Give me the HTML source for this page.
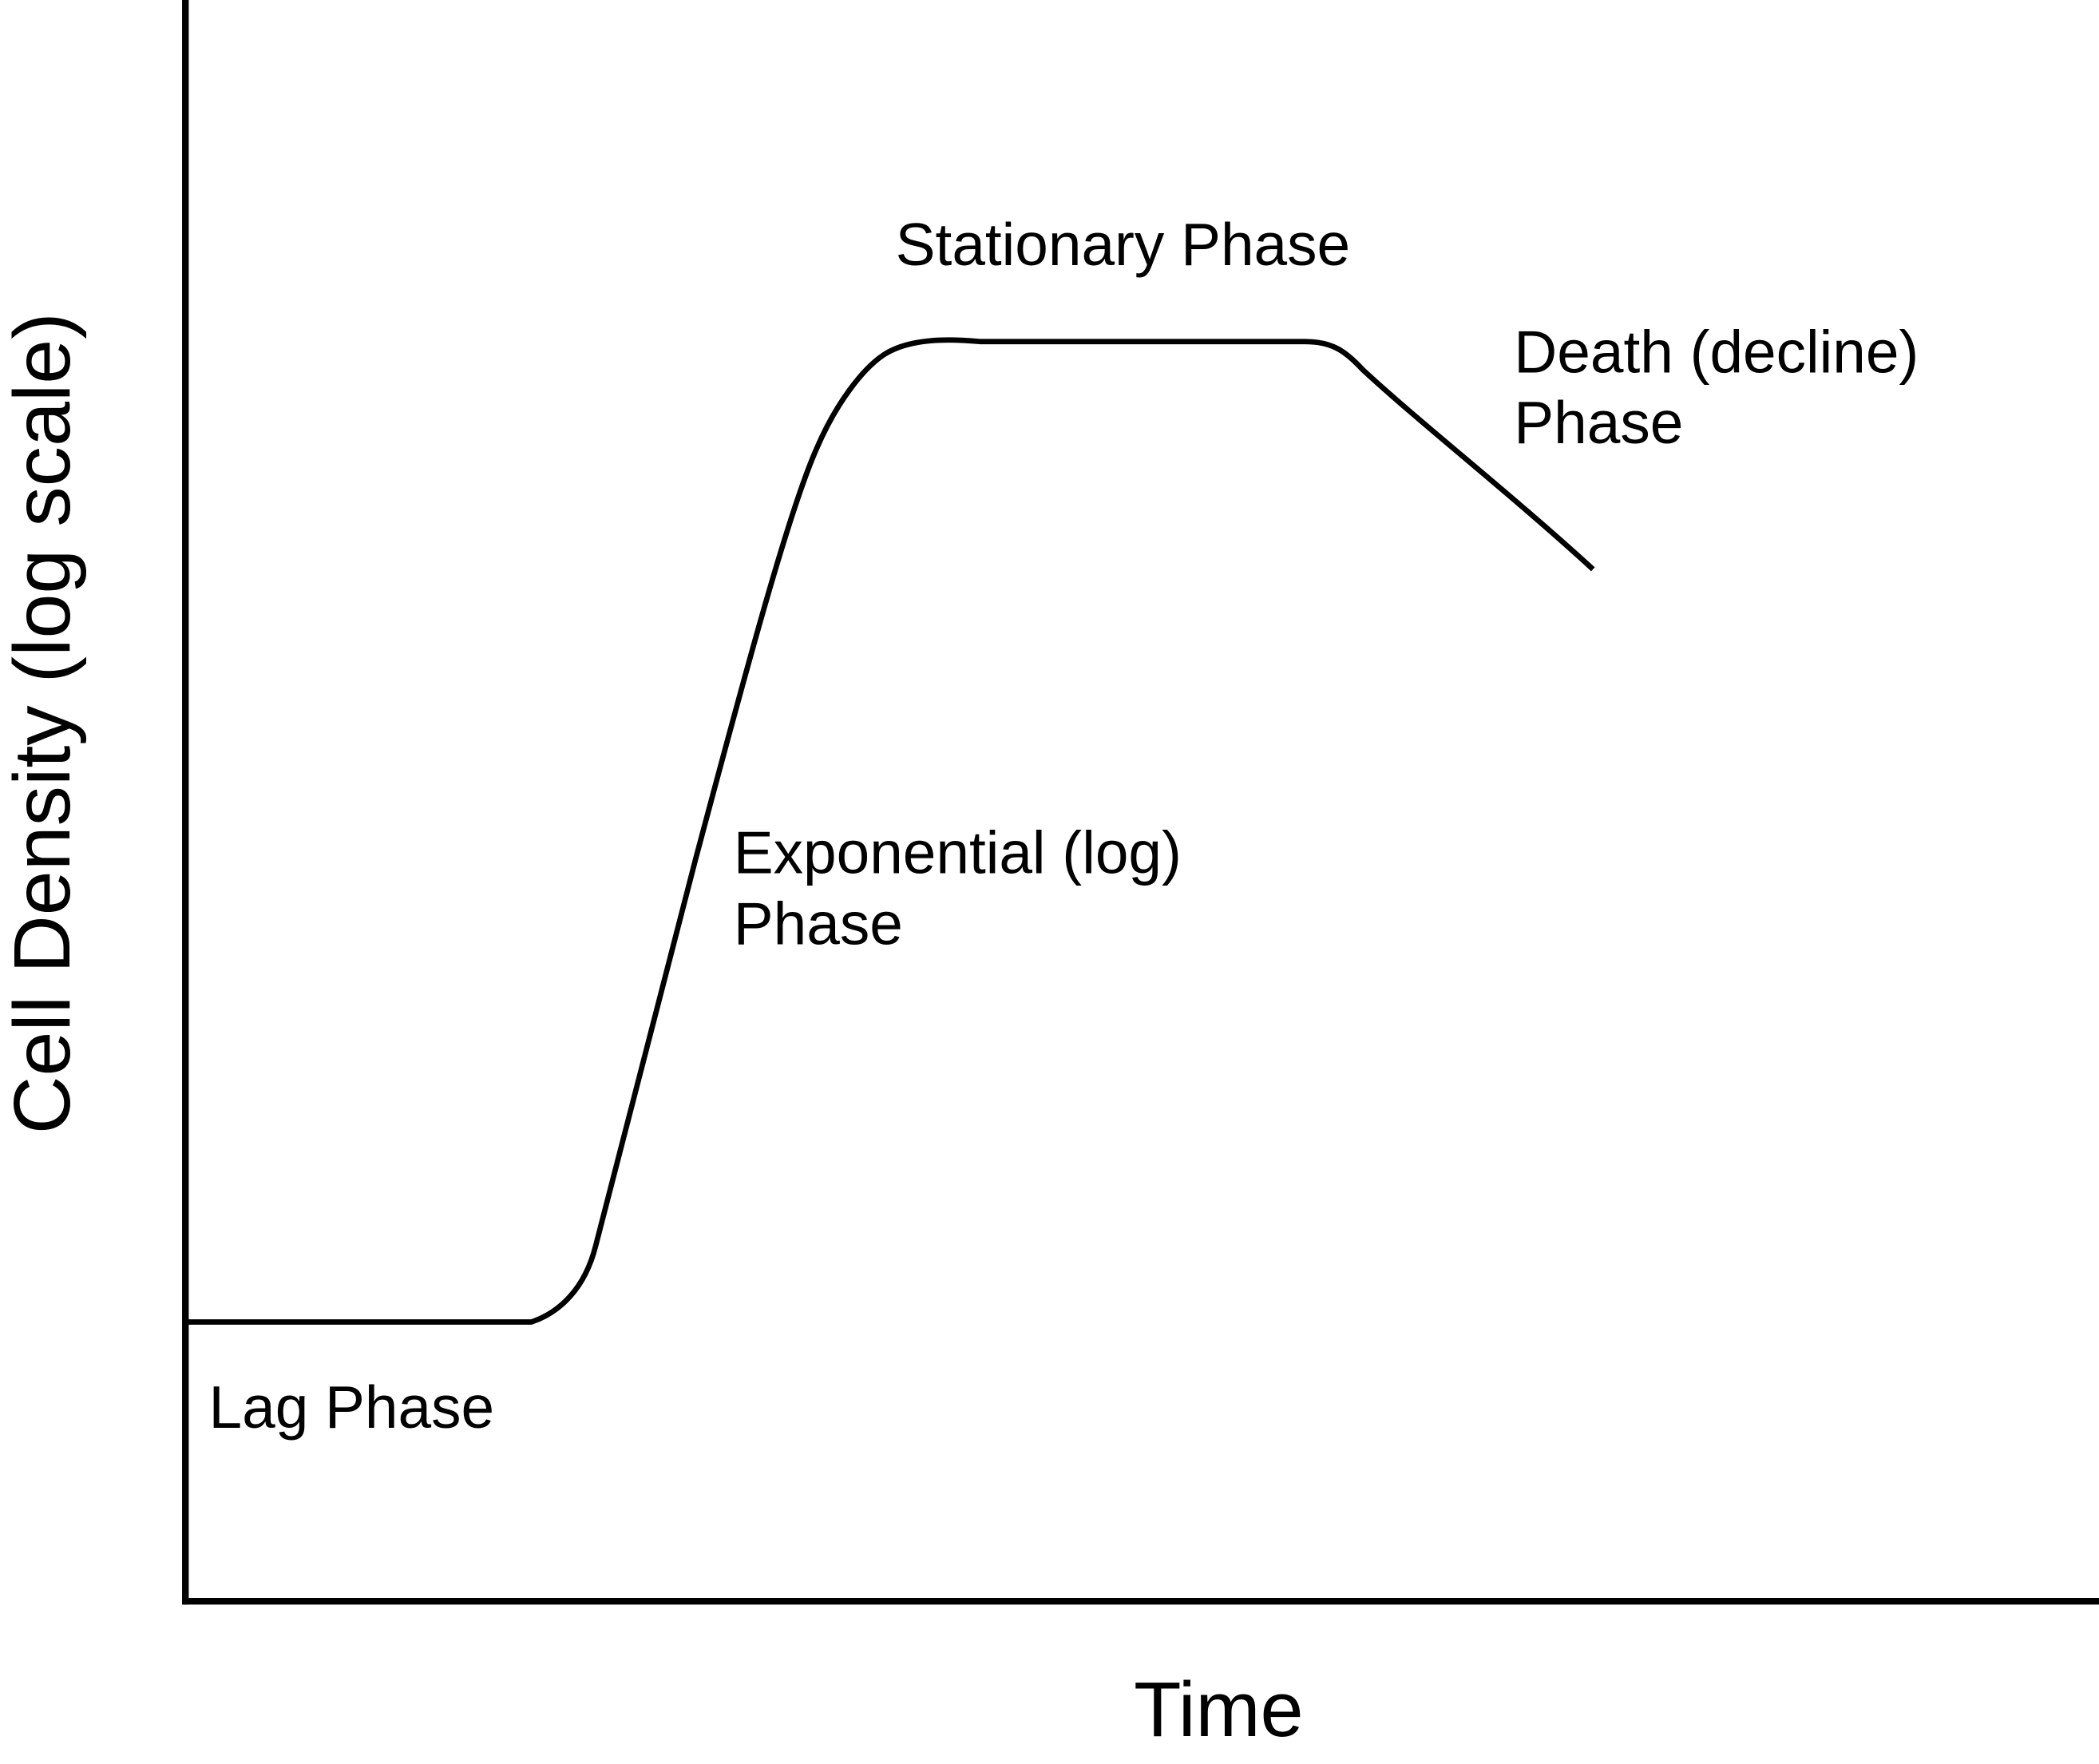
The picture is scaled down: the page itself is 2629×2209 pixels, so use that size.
<!DOCTYPE html>
<html><head><meta charset="utf-8"><style>
html,body{margin:0;padding:0;background:#fff;}
svg{display:block;}
text{font-family:"Liberation Sans",Arial,sans-serif;fill:#000;}
</style></head><body>
<svg width="2629" height="2209" viewBox="0 0 1568 1317" preserveAspectRatio="none" xmlns="http://www.w3.org/2000/svg">
<line x1="138.5" y1="0" x2="138.5" y2="1198" stroke="#000" stroke-width="5"/>
<line x1="136" y1="1195.5" x2="1568" y2="1195.5" stroke="#000" stroke-width="5"/>
<path d="M140 987 L397 987 C418 980 437 962 445 930 L520 640 C560 490 590 380 610 335 C625 300 645 275 660 265 C680 252 710 253 732 255 L975 255 C995 255 1005 262 1018 276 C1060 315 1130 370 1190 425" fill="none" stroke="#000" stroke-width="4"/>
<text x="669" y="198" font-size="44.6">Stationary Phase</text>
<text x="1131" y="278" font-size="44.6">Death (decline)</text>
<text x="1131" y="331" font-size="44.6">Phase</text>
<text x="548" y="652" font-size="44.6">Exponential (log)</text>
<text x="548" y="705" font-size="44.6">Phase</text>
<text x="156" y="1066" font-size="44.6">Lag Phase</text>
<text x="847" y="1296" font-size="58">Time</text>
<text transform="translate(52,540) rotate(-90)" text-anchor="middle" font-size="60">Cell Density (log scale)</text>
</svg>
</body></html>
